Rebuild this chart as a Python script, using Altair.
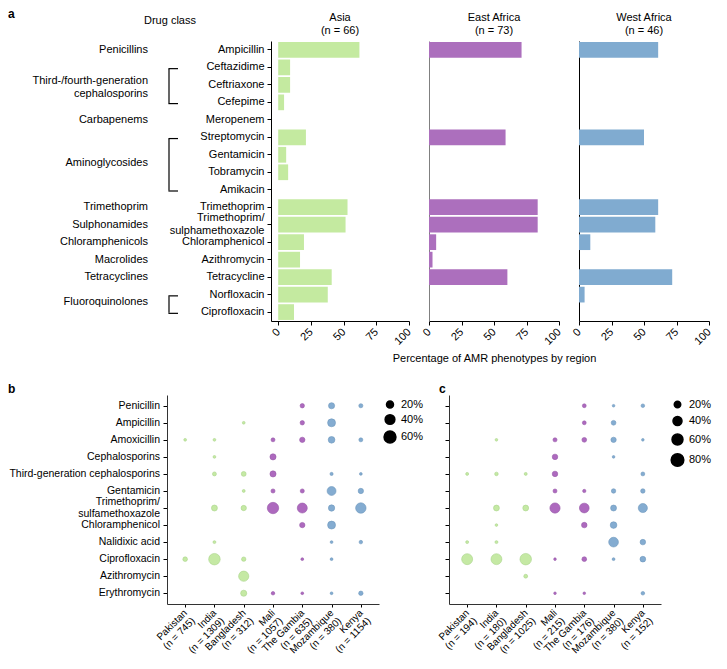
import altair as alt
import pandas as pd

FONT = "Liberation Sans"
GREEN = "#c4eaa0"
PURPLE = "#ac6fbd"
BLUE = "#80abd0"

# ---------------- panel a data ----------------
drugs = ["Ampicillin", "Ceftazidime", "Ceftriaxone", "Cefepime", "Meropenem",
         "Streptomycin", "Gentamicin", "Tobramycin", "Amikacin", "Trimethoprim",
         "Trimethoprim/sulphamethoxazole", "Chloramphenicol", "Azithromycin",
         "Tetracycline", "Norfloxacin", "Ciprofloxacin"]
asia_pct = [62.1, 9.1, 9.1, 4.5, 0, 21.2, 6.1, 7.6, 0, 53.0, 51.5, 19.7, 16.7, 40.9, 37.9, 12.1]
east_pct = [71.2, 0, 0, 0, 0, 58.9, 0, 0, 0, 83.6, 83.6, 5.5, 2.7, 60.3, 0, 0]
west_pct = [60.9, 0, 0, 0, 0, 50.0, 0, 0, 0, 60.9, 58.7, 8.7, 0, 71.7, 4.3, 0]

class_single_drug = ["Ampicillin", "Meropenem", "Trimethoprim",
                     "Trimethoprim/sulphamethoxazole", "Chloramphenicol", "Azithromycin", "Tetracycline"]
class_single_name = ["Penicillins", "Carbapenems", "Trimethoprim", "Sulphonamides",
                     "Chloramphenicols", "Macrolides", "Tetracyclines"]
class_multi_drug = ["Ceftriaxone"]
class_multi_name = ["Third-/fourth-generation\ncephalosporins"]
class_between_drug = ["Gentamicin", "Norfloxacin"]
class_between_name = ["Aminoglycosides", "Fluoroquinolones"]
bracket_start = ["Ceftazidime", "Streptomycin", "Norfloxacin"]
bracket_end = ["Cefepime", "Amikacin", "Ciprofloxacin"]

# ---------------- panels b / c data ----------------
countries = ["Pakistan", "India", "Bangladesh", "Mali", "The Gambia", "Mozambique", "Kenya"]
country_grp = ["Asia", "Asia", "Asia", "WA", "WA", "EA", "EA"]
n_b = [745, 1309, 312, 1057, 635, 380, 1154]
n_c = [194, 180, 1025, 215, 176, 380, 152]
antibiotics = ["Penicillin", "Ampicillin", "Amoxicillin", "Cephalosporins",
               "Third-generation cephalosporins", "Gentamicin",
               "Trimethoprim/sulfamethoxazole", "Chloramphenicol", "Nalidixic acid",
               "Ciprofloxacin", "Azithromycin", "Erythromycin"]
# columns: Pakistan, India, Bangladesh, Mali, The Gambia, Mozambique, Kenya (0 = no point)
b_pct = [
    [0, 0, 0, 0, 7, 15, 6],
    [0, 0, 2, 0, 7, 26, 0],
    [2, 2, 0, 5.5, 11, 18, 5.5],
    [0, 2, 0, 15, 0, 0, 0],
    [0, 5.5, 9, 15, 0, 3, 2],
    [0, 0, 2.4, 6, 6, 33, 11],
    [0, 14, 11, 55, 42, 16, 46],
    [0, 0, 0, 0, 11, 26, 0],
    [0, 2.4, 0, 0, 0, 2, 4],
    [8, 56, 7, 0, 2, 2, 0],
    [0, 0, 44, 0, 0, 0, 0],
    [0, 0, 15, 4, 2, 2, 7],
]
c_pct = [
    [0, 0, 0, 0, 6, 2, 5],
    [0, 0, 0, 0, 6, 10, 0],
    [0, 2, 0, 7, 10, 13, 2],
    [0, 0, 0, 14, 0, 2, 0],
    [3, 5, 3, 14, 0, 0, 6],
    [0, 0, 0, 6.6, 4, 8.5, 8.5],
    [0, 16, 16, 52, 47, 16.5, 41],
    [0, 2, 0, 0, 14, 21, 0],
    [3, 3, 0, 0, 0, 47, 14],
    [60, 59, 66, 2, 10, 2.5, 15],
    [0, 0, 6, 0, 0, 0, 0],
    [0, 0, 0, 2, 2, 0, 5],
]

# ---------------- layout constants ----------------
H_TOP = 280
W_CLS = 243
GAP_TOP = 20
W_ASIA = 138
W_AF = 130
W_BLAB = 89
GAP_BOT = 70
W_BUB = 212
H_BUB = 209

df_top = pd.DataFrame({"drug": drugs, "asia": asia_pct, "east": east_pct, "west": west_pct})
ysc = alt.Scale(domain=drugs, paddingInner=0.1, paddingOuter=0.06)
TMP_LABEL = ("datum.label == 'Trimethoprim/sulphamethoxazole' ? "
             "['Trimethoprim/', 'sulphamethoxazole'] : datum.label")
TMP_OFFSET = {"condition": {"test": "datum.label == 'Trimethoprim/sulphamethoxazole'", "value": -6.5},
              "value": 0}


def xaxis(title=""):
    kw = dict(values=[0, 25, 50, 75, 100], labelAngle=-45, labelAlign="right",
              labelBaseline="middle", labelPadding=5, tickSize=4, grid=False)
    if title:
        kw.update(title=title, titlePadding=6)
    else:
        kw.update(title=None)
    return alt.Axis(**kw)


def region_title(name, n):
    return alt.TitleParams([name, f"(n = {n})"], fontSize=11, fontWeight="normal",
                           anchor="middle", lineHeight=13, offset=5, font=FONT)


def txt(s):
    return pd.DataFrame({"t": [s]})


# --- drug class column ---
def cls_y(band=0.5):
    return alt.Y("drug:N", sort=drugs, scale=ysc, bandPosition=band, axis=None)


cls1 = alt.Chart(pd.DataFrame({"drug": class_single_drug, "cls": class_single_name})).mark_text(
    align="right", baseline="middle", fontSize=11
).encode(x=alt.value(140), y=cls_y(), text="cls:N")
cls_multi = alt.Chart(pd.DataFrame({"drug": class_multi_drug, "cls": class_multi_name})).mark_text(
    align="right", baseline="middle", lineBreak="\n", lineHeight=13, fontSize=11, dy=-4
).encode(x=alt.value(140), y=cls_y(), text="cls:N")
cls2 = alt.Chart(pd.DataFrame({"drug": class_between_drug, "cls": class_between_name})).mark_text(
    align="right", baseline="middle", fontSize=11
).encode(x=alt.value(140), y=cls_y(1), text="cls:N")
vrule = alt.Chart(pd.DataFrame({"start": bracket_start, "end": bracket_end})).mark_rule(
    color="black", strokeWidth=1.2
).encode(
    x=alt.value(161),
    y=alt.Y("start:N", sort=drugs, scale=ysc, bandPosition=0.6, axis=None),
    y2=alt.Y2("end:N", bandPosition=0.55),
)
hrule = alt.Chart(pd.DataFrame({"drug": bracket_start + bracket_end})).mark_rule(
    color="black", strokeWidth=1.2
).encode(x=alt.value(160.4), x2=alt.value(170), y=cls_y(0.58))
header = alt.Chart(txt("Drug class")).mark_text(
    align="center", baseline="middle", fontSize=11
).encode(x=alt.value(162), y=alt.value(-20), text="t:N")
alabel = alt.Chart(txt("a")).mark_text(
    align="left", baseline="middle", fontSize=12, fontWeight="bold"
).encode(x=alt.value(0), y=alt.value(-27), text="t:N")

cls_chart = alt.layer(cls1, cls_multi, cls2, vrule, hrule, header, alabel).properties(
    width=W_CLS, height=H_TOP)

asia_chart = alt.Chart(df_top).mark_bar(color=GREEN).encode(
    x=alt.X("asia:Q", scale=alt.Scale(domain=[-5.5, 100], nice=False, zero=False), axis=xaxis()),
    x2=alt.datum(0),
    y=alt.Y("drug:N", sort=drugs, scale=ysc,
            axis=alt.Axis(title=None, labelExpr=TMP_LABEL, labelLineHeight=13,
                          labelOffset=TMP_OFFSET, tickSize=4, labelPadding=3)),
).properties(width=W_ASIA, height=H_TOP, title=region_title("Asia", 66))

east_chart = alt.Chart(df_top).mark_bar(color=PURPLE).encode(
    x=alt.X("east:Q", scale=alt.Scale(domain=[0, 100], nice=False),
            axis=xaxis("Percentage of AMR phenotypes by region")),
    y=alt.Y("drug:N", sort=drugs, scale=ysc,
            axis=alt.Axis(title=None, labels=False, ticks=False, domainColor="#808080")),
).properties(width=W_AF, height=H_TOP, title=region_title("East Africa", 73))

west_chart = alt.Chart(df_top).mark_bar(color=BLUE).encode(
    x=alt.X("west:Q", scale=alt.Scale(domain=[0, 100], nice=False), axis=xaxis()),
    y=alt.Y("drug:N", sort=drugs, scale=ysc,
            axis=alt.Axis(title=None, labels=False, ticks=False)),
).properties(width=W_AF, height=H_TOP, title=region_title("West Africa", 46))

top_row = alt.hconcat(cls_chart, asia_chart, east_chart, west_chart,
                      spacing=GAP_TOP, bounds="flush")

# ---------------- bubble panels ----------------
grps = ["Asia", "WA", "EA"]
fills = ["#c2e8a0", "#a962bb", "#7ea8cf"]
strokes = ["#a6d384", "#9452a6", "#6893bb"]
ab_scale = alt.Scale(domain=antibiotics, padding=0.63)
ab_single = [a for a in antibiotics if "/" not in a]
ab_multi = [a for a in antibiotics if "/" in a]


def ab_y():
    return alt.Y("ab:N", sort=antibiotics, scale=ab_scale, axis=None)


blab1 = alt.Chart(pd.DataFrame({"ab": ab_single})).mark_text(
    align="right", baseline="middle", fontSize=10.5
).encode(x=alt.value(152), y=ab_y(), text="ab:N")
blab2 = alt.Chart(pd.DataFrame({"ab": ab_multi, "lab": [a.replace("/", "/\n") for a in ab_multi]})).mark_text(
    align="right", baseline="middle", fontSize=10.5, lineBreak="\n", lineHeight=12, dy=-6
).encode(x=alt.value(152), y=ab_y(), text="lab:N")
blet = alt.Chart(txt("b")).mark_text(
    align="left", baseline="middle", fontSize=12, fontWeight="bold"
).encode(x=alt.value(0), y=alt.value(-6), text="t:N")
blabels = alt.layer(blab1, blab2, blet).properties(width=W_BLAB, height=H_BUB)


def long_df(mat, ns):
    labels = [f"{c}|(n = {n})" for c, n in zip(countries, ns)]
    rows = []
    for ab, vals in zip(antibiotics, mat):
        for lab, g, v in zip(labels, country_grp, vals):
            if v > 0:
                rows.append({"ab": ab, "country": lab, "grp": g, "pct": v})
    return pd.DataFrame(rows), labels


def bubble(mat, ns, size_range, legend_values, legend_x, row_pad, letter=None):
    df, labels = long_df(mat, ns)
    pts = alt.Chart(df).mark_circle(opacity=0.95, strokeWidth=0.6).encode(
        x=alt.X("country:N", sort=labels, scale=alt.Scale(domain=labels, padding=0.62),
                axis=alt.Axis(title=None, labelAngle=-45, labelAlign="right",
                              labelBaseline="middle", labelExpr="split(datum.label, '|')",
                              tickSize=3, labelPadding=4, labelLineHeight=11,
                              labelFontSize=10, domainColor="#333333")),
        y=alt.Y("ab:N", sort=antibiotics, scale=ab_scale,
                axis=alt.Axis(title=None, labels=False, tickSize=4, domainColor="#333333")),
        color=alt.Color("grp:N", scale=alt.Scale(domain=grps, range=fills), legend=None),
        stroke=alt.Stroke("grp:N", scale=alt.Scale(domain=grps, range=strokes), legend=None),
        size=alt.Size("pct:Q", scale=alt.Scale(domain=[0, 100], range=size_range),
                      legend=alt.Legend(values=legend_values, title=None,
                                        labelExpr="datum.value + '%'",
                                        symbolFillColor="black", symbolStrokeColor="black",
                                        symbolOpacity=1, symbolType="circle",
                                        labelFontSize=11, orient="none",
                                        legendX=legend_x, legendY=4,
                                        rowPadding=row_pad)),
    )
    if letter:
        let = alt.Chart(txt(letter)).mark_text(
            align="left", baseline="middle", fontSize=12, fontWeight="bold"
        ).encode(x=alt.value(-10), y=alt.value(-6), text="t:N")
        pts = alt.layer(pts, let)
    return pts.properties(width=W_BUB, height=H_BUB)


b_chart = bubble(b_pct, n_b, [3, 233], [20, 40, 60], W_BUB + 4, 0.5)
c_chart = bubble(c_pct, n_c, [3, 198], [20, 40, 60, 80], W_BUB + 9, 2.5, "c")

bottom_row = alt.hconcat(blabels, b_chart, c_chart, spacing=GAP_BOT, bounds="flush").resolve_scale(
    size="independent", color="independent", stroke="independent"
).resolve_legend(size="independent")

chart = alt.vconcat(top_row, bottom_row, spacing=19).properties(
    padding=0
).configure_view(
    stroke=None
).configure_axis(
    labelFont=FONT, titleFont=FONT, labelFontSize=11, titleFontSize=11,
    labelColor="black", titleColor="black", domainColor="black", tickColor="black",
    grid=False, titleFontWeight="normal"
).configure_title(
    font=FONT, fontSize=11, fontWeight="normal", color="black"
).configure_text(
    font=FONT, fontSize=11, color="black"
).configure_legend(
    labelFont=FONT, labelFontSize=11, labelColor="black"
)

chart.save("out.html", embed_options={"renderer": "svg", "actions": False})
